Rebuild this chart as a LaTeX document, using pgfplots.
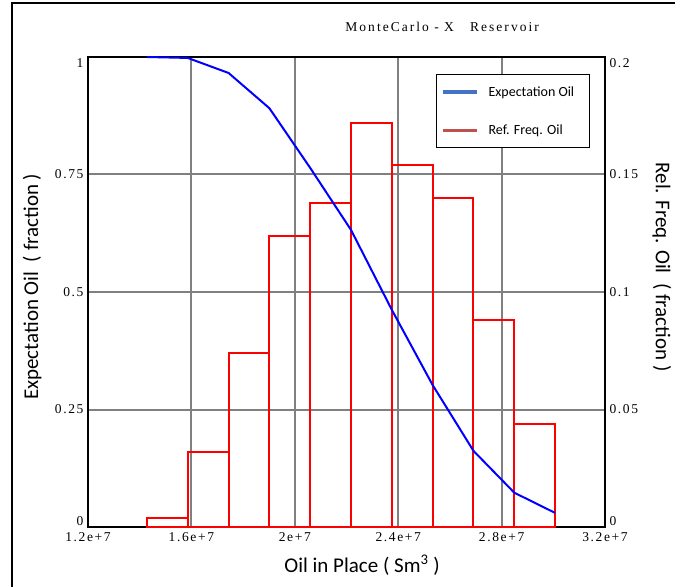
\documentclass[border=0pt]{standalone}
\usepackage{pgfplots}
\pgfplotsset{compat=1.18}
\usepackage{fontspec}
\setmainfont{Liberation Serif}
\newfontfamily\calibri{Carlito}
\newfontfamily\serifsp[LetterSpace=12]{Liberation Serif}
\newfontfamily\titlesp[LetterSpace=15]{Liberation Serif}
\definecolor{legblue}{RGB}{68,114,196}
\definecolor{legred}{RGB}{192,80,77}
\definecolor{gridgray}{RGB}{128,128,128}

\pgfplotstableread{
x          h
1.4280e7   0.004
1.5859e7   0.032
1.7438e7   0.074
1.9017e7   0.124
2.0596e7   0.138
2.2175e7   0.172
2.3754e7   0.154
2.5333e7   0.140
2.6912e7   0.088
2.8491e7   0.044
3.0070e7   0.000
}\freqtable

\pgfplotstableread{
x          e
1.4280e7   1.000
1.5859e7   0.998
1.7438e7   0.966
1.9017e7   0.891
2.0596e7   0.764
2.2175e7   0.632
2.3754e7   0.462
2.5333e7   0.302
2.6912e7   0.162
2.8491e7   0.073
3.0070e7   0.030
}\exptable

\begin{document}
\begin{tikzpicture}
\pgfplotsset{
  base/.style={
    scale only axis, width=517pt, height=470pt,
    at={(0pt,0pt)}, anchor=south west,
    xmin=1.2e7, xmax=3.2e7,
    major tick length=0pt,
    scaled x ticks=false, scaled y ticks=false,
    ticklabel style={font=\serifsp\fontsize{13.5}{15}\selectfont},
    /pgf/number format/assume math mode=true,
  }
}
% axis A: frame, grid, left ticks, x ticks, labels
\begin{axis}[base, ymin=0, ymax=1,
  axis line style={line width=2.4pt},
  xtick={1.2e7,1.6e7,2e7,2.4e7,2.8e7,3.2e7},
  xticklabels={1.2e+7,1.6e+7,2e+7,2.4e+7,2.8e+7,3.2e+7},
  ytick={0,0.25,0.5,0.75,1},
  yticklabels={\raisebox{6pt}[\height][\depth]{0},0.25,0.5,0.75,\raisebox{-6pt}[\height][\depth]{1}},
  ytick pos=left, xtick pos=bottom,
  xticklabel style={yshift=-2pt},
  yticklabel style={xshift=-1pt},
  grid=major, major grid style={gridgray, line width=2pt},
  xlabel={Oil in Place ( Sm\textsuperscript{3} )},
  ylabel={Expectation Oil\ \ ( fraction )},
  every axis x label/.style={at={(axis description cs:0.530,-0.081)}, anchor=center, font=\calibri\fontsize{21}{24}\selectfont},
  every axis y label/.style={at={(axis description cs:-0.108,0.511)}, anchor=center, rotate=90, font=\calibri\fontsize{21}{24}\selectfont},
  title={MonteCarlo - X\ \ \ Reservoir},
  every axis title/.style={at={(axis description cs:0.685,1.064)}, anchor=center, font=\titlesp\fontsize{13.5}{15}\selectfont},
]
\end{axis}
% axis B: histogram on right scale
\begin{axis}[base, ymin=0, ymax=0.2,
  hide x axis,
  axis y line*=right,
  y axis line style={line width=2.4pt},
  ytick={0,0.05,0.1,0.15,0.2},
  yticklabels={\raisebox{6pt}[\height][\depth]{0},0.05,0.1,0.15,\raisebox{-6pt}[\height][\depth]{0.2}},
  yticklabel style={xshift=1pt},
  ylabel={Rel. Freq. Oil\ \ ( fraction )},
  every axis y label/.style={at={(axis description cs:1.110,0.553)}, anchor=center, rotate=-90, font=\calibri\fontsize{21}{24}\selectfont},
]
\addplot[ybar interval, draw=red, fill=none, line width=2pt] table[x=x, y=h] {\freqtable};
\end{axis}
% axis C: expectation curve and legend
\begin{axis}[base, ymin=0, ymax=1,
  hide x axis, hide y axis,
  legend cell align=left,
  legend style={at={(rel axis cs:0.673,0.964)}, anchor=north west,
    draw=black, line width=0.9pt, fill=white,
    font=\calibri\fontsize{14}{16}\selectfont,
    inner xsep=5pt, inner ysep=10pt, row sep=23pt,
    nodes={inner xsep=5pt}},
  legend image code/.code={\draw[#1] (0pt,0pt) -- (34pt,0pt);},
]
\addplot[blue, line width=2pt, forget plot] table[x=x, y=e] {\exptable};
\addlegendimage{legblue, line width=3.2pt}
\addlegendentry{\makebox[96pt][l]{\hspace{5pt}Expectation Oil}}
\addlegendimage{legred, line width=3.2pt}
\addlegendentry{\makebox[96pt][l]{\hspace{5pt}Ref. Freq. Oil}}
\end{axis}
\draw[line width=2pt] (-76pt,-60pt) -- (-76pt,524pt) -- (587pt,524pt);
\pgfresetboundingbox
\path[use as bounding box] (-88pt,-60pt) rectangle (587pt,527pt);
\end{tikzpicture}
\end{document}
